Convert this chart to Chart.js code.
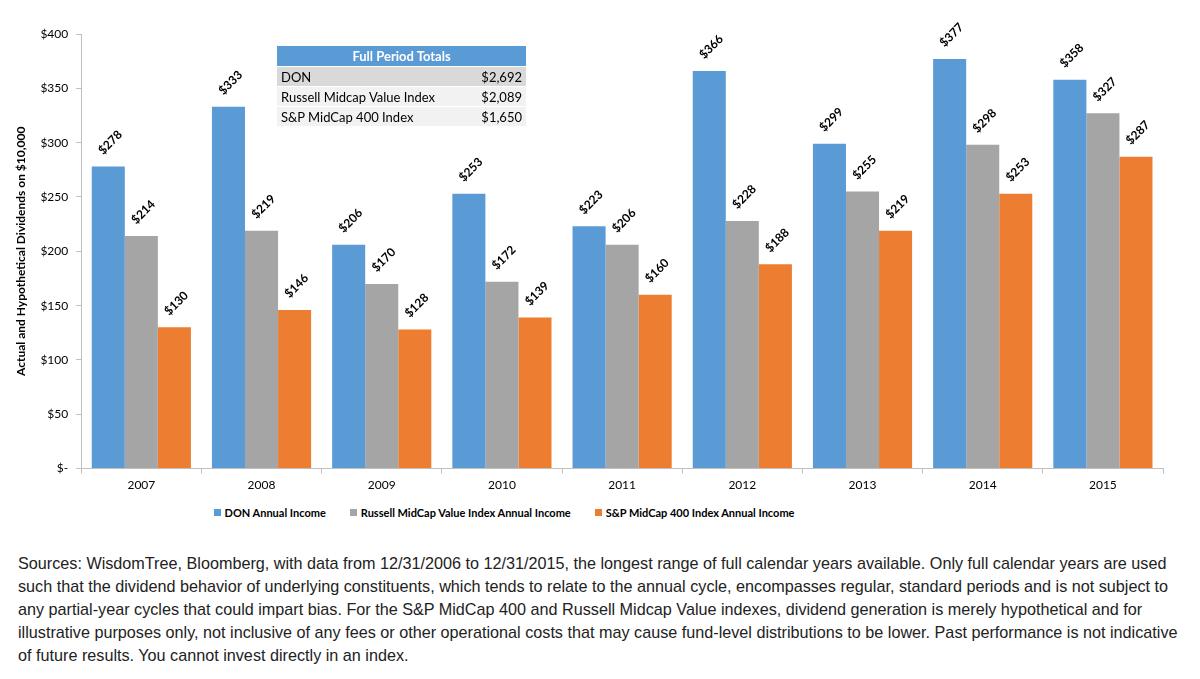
<!DOCTYPE html>
<html lang="en">
<head>
<meta charset="UTF-8" />
<title>DON Annual Income</title>
<script src="https://cdn.jsdelivr.net/npm/chart.js"></script>
<style>
  body { margin: 0; background: #fff; width: 1200px; height: 679px; overflow: hidden; position: relative; }
  #wrap { position: absolute; left: 0; top: 0; width: 1200px; height: 500px; }
  #totals { position: absolute; left: 277px; top: 46px; width: 249px; border-collapse: collapse; font-family: Lato, "Open Sans", sans-serif; font-size: 13px; }
  #totals th { background: #5b9bd5; color: #fff; font-weight: bold; height: 20px; padding: 0; text-align: center; }
  #totals td { height: 19px; padding: 0 4px; border-top: 1px solid #fff; color: #000; }
  #totals tr.r1 td { background: #d9d9d9; }
  #totals tr.r2 td, #totals tr.r3 td { background: #f2f2f2; }
  #totals td.v { text-align: right; width: 50px; }
  #legend { position: absolute; left: 154px; width: 700px; top: 506px; display: flex; justify-content: center; gap: 24px; white-space: nowrap; font-family: Lato, "Open Sans", sans-serif; font-size: 11px; font-weight: bold; color: #000; }
  #legend span.box { display: inline-block; width: 7px; height: 7px; margin-right: 4px; vertical-align: 1px; }
  #note { position: absolute; left: 18px; top: 552px; width: 1160px; font-family: "Liberation Sans", Arial, sans-serif; font-size: 16.2px; line-height: 23px; color: #222; }
</style>
</head>
<body>
<div id="wrap"><canvas id="myChart" width="1200" height="500"></canvas></div>
<table id="totals">
  <tr><th colspan="2">Full Period Totals</th></tr>
  <tr class="r1"><td>DON</td><td class="v">$2,692</td></tr>
  <tr class="r2"><td>Russell Midcap Value Index</td><td class="v">$2,089</td></tr>
  <tr class="r3"><td>S&amp;P MidCap 400 Index</td><td class="v">$1,650</td></tr>
</table>
<div id="legend"></div>
<div id="note">Sources: WisdomTree, Bloomberg, with data from 12/31/2006 to 12/31/2015, the longest range of full calendar years available. Only full calendar years are used such that the dividend behavior of underlying constituents, which tends to relate to the annual cycle, encompasses regular, standard periods and is not subject to any partial-year cycles that could impart bias. For the S&amp;P MidCap 400 and Russell Midcap Value indexes, dividend generation is merely hypothetical and for illustrative purposes only, not inclusive of any fees or other operational costs that may cause fund-level distributions to be lower. Past performance is not indicative of future results. You cannot invest directly in an index.</div>
<script>
const years = ["2007", "2008", "2009", "2010", "2011", "2012", "2013", "2014", "2015"];
const donIncome = [278, 333, 206, 253, 223, 366, 299, 377, 358];
const russellIncome = [214, 219, 170, 172, 206, 228, 255, 298, 327];
const spIncome = [130, 146, 128, 139, 160, 188, 219, 253, 287];
const yTicks = [0, 50, 100, 150, 200, 250, 300, 350, 400];

const fontFamily = "Lato, 'Open Sans', sans-serif";

// rotated value labels above each bar
const barLabels = {
    id: "barLabels",
    afterDatasetsDraw(chart) {
        const ctx = chart.ctx;
        ctx.save();
        ctx.font = "bold 12px " + fontFamily;
        ctx.fillStyle = "#000";
        ctx.textAlign = "center";
        ctx.textBaseline = "middle";
        chart.data.datasets.forEach((ds, i) => {
            chart.getDatasetMeta(i).data.forEach((bar, j) => {
                ctx.save();
                ctx.translate(bar.x + 2, bar.y - 24);
                ctx.rotate(-Math.PI / 4);
                ctx.fillText("$" + ds.data[j], 0, 0);
                ctx.restore();
            });
        });
        ctx.restore();
    },
};

const config = {
    type: "bar",
    data: {
        labels: years,
        datasets: [
            { label: "DON Annual Income", data: donIncome, backgroundColor: "#5b9bd5" },
            { label: "Russell MidCap Value Index Annual Income", data: russellIncome, backgroundColor: "#a5a5a5" },
            { label: "S&P MidCap 400 Index Annual Income", data: spIncome, backgroundColor: "#ed7d31" },
        ],
    },
    options: {
        responsive: false,
        animation: false,
        layout: { padding: { left: 10, right: 37, top: 34, bottom: 4 } },
        datasets: { bar: { categoryPercentage: 0.825, barPercentage: 1.0 } },
        plugins: {
            legend: { display: false },
            tooltip: { enabled: false },
        },
        scales: {
            x: {
                grid: { drawOnChartArea: false, offset: true, color: "#bfbfbf", tickLength: 5 },
                border: { color: "#bfbfbf" },
                ticks: { color: "#000", padding: 4, font: { family: fontFamily, size: 12 } },
            },
            y: {
                min: 0,
                max: 400,
                afterBuildTicks(scale) {
                    scale.ticks = yTicks.map((v) => ({ value: v }));
                },
                grid: { drawOnChartArea: false, color: "#bfbfbf", tickLength: 5 },
                border: { color: "#bfbfbf" },
                ticks: {
                    color: "#000",
                    padding: 8,
                    font: { family: fontFamily, size: 12 },
                    callback: (v) => (v === 0 ? "$-" : "$" + v),
                },
                title: {
                    display: true,
                    text: "Actual and Hypothetical Dividends on $10,000",
                    color: "#000",
                    font: { family: fontFamily, size: 12, weight: "bold" },
                },
            },
        },
    },
    plugins: [barLabels],
};

const chart = new Chart(document.getElementById("myChart").getContext("2d"), config);

// legend built from the chart's own datasets
document.getElementById("legend").innerHTML = chart.data.datasets
    .map((ds) => `<span><span class="box" style="background:${ds.backgroundColor}"></span>${ds.label.replace("&", "&amp;")}</span>`)
    .join("");
</script>
</body>
</html>
